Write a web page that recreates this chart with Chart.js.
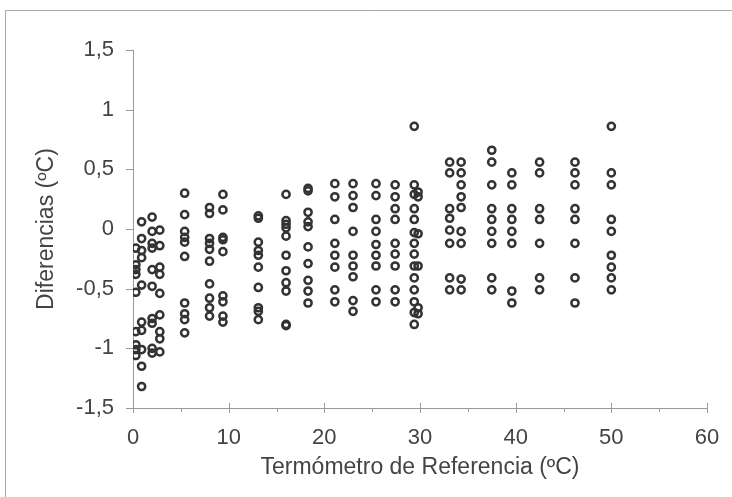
<!DOCTYPE html>
<html lang="es">
<head>
<meta charset="UTF-8">
<title>Diferencias vs termómetro de referencia</title>
<style>
  html, body { margin: 0; padding: 0; background: #fff; }
  #wrap { width: 732px; height: 497px; position: relative; }
</style>
</head>
<body>
<div id="wrap"><canvas id="chart" width="732" height="497"></canvas></div>
<script src="https://cdn.jsdelivr.net/npm/chart.js@4/dist/chart.umd.min.js"></script>
<script>
// readings grouped by reference temperature (x) with the differences (y)
const refTemps = [0.3, 0.9, 2.0, 2.8, 5.4, 8.0, 9.4, 13.1, 16.0, 18.3, 21.1, 23.0, 25.4, 27.4, 29.4, 29.8, 33.1, 34.3, 37.5, 39.6, 42.5, 46.2, 50.0];
const diffs = [
  [-0.16, -0.30, -0.34, -0.38, -0.53, -0.86, -0.97, -1.01, -1.06],
  [0.06, -0.08, -0.18, -0.24, -0.47, -0.78, -0.85, -1.01, -1.15, -1.32],
  [0.10, -0.02, -0.12, -0.16, -0.34, -0.48, -0.75, -0.79, -1.00, -1.04],
  [-0.01, -0.14, -0.32, -0.38, -0.54, -0.72, -0.86, -0.92, -1.03],
  [0.30, 0.12, -0.02, -0.07, -0.11, -0.23, -0.62, -0.71, -0.76, -0.87],
  [0.18, 0.13, -0.08, -0.12, -0.17, -0.27, -0.46, -0.58, -0.66, -0.73],
  [0.29, 0.16, -0.07, -0.09, -0.19, -0.56, -0.61, -0.73, -0.78],
  [0.11, 0.09, -0.11, -0.18, -0.22, -0.32, -0.49, -0.66, -0.69, -0.76],
  [0.29, 0.07, 0.04, 0.01, -0.06, -0.22, -0.35, -0.45, -0.52, -0.80, -0.81],
  [0.34, 0.32, 0.14, 0.06, 0.02, -0.15, -0.29, -0.43, -0.52, -0.62],
  [0.38, 0.27, 0.08, -0.12, -0.22, -0.32, -0.51, -0.61],
  [0.38, 0.28, 0.18, -0.02, -0.22, -0.31, -0.40, -0.60, -0.69],
  [0.38, 0.28, 0.08, -0.02, -0.13, -0.22, -0.31, -0.51, -0.61],
  [0.37, 0.27, 0.17, 0.08, -0.12, -0.21, -0.31, -0.51, -0.61],
  [0.86, 0.37, 0.29, 0.17, 0.08, -0.03, -0.12, -0.21, -0.31, -0.41, -0.51, -0.61, -0.70, -0.80],
  [0.27, 0.31, -0.04, -0.31, -0.71, -0.66],
  [0.56, 0.47, 0.17, 0.09, -0.01, -0.12, -0.41, -0.51],
  [0.56, 0.47, 0.37, 0.27, 0.18, -0.02, -0.12, -0.42, -0.51],
  [0.66, 0.56, 0.37, 0.17, 0.08, -0.02, -0.12, -0.41, -0.51],
  [0.47, 0.37, 0.17, 0.08, -0.02, -0.12, -0.52, -0.62],
  [0.56, 0.47, 0.17, 0.08, -0.12, -0.41, -0.51],
  [0.56, 0.47, 0.37, 0.17, 0.08, -0.12, -0.41, -0.62],
  [0.86, 0.47, 0.37, 0.08, -0.02, -0.22, -0.32, -0.41, -0.51]
];
const xTicks = [0, 10, 20, 30, 40, 50, 60];
const xMinorTicks = [5, 15, 25, 35, 45, 55];
const yTicks = [-1.5, -1, -0.5, 0, 0.5, 1, 1.5];

const points = [];
refTemps.forEach((t, i) => {
  diffs[i].forEach(d => points.push({ x: t, y: d }));
});

const axisColor = '#9a9a9a';
const textColor = '#444';

// frame lines + tick marks drawn through the scales
const decor = {
  id: 'decor',
  beforeDraw(chart) {
    const c = chart.ctx;
    c.save();
    c.strokeStyle = '#a8a8a8';
    c.lineWidth = 1;
    c.beginPath();
    c.moveTo(5.5, 497);
    c.lineTo(5.5, 10.5);
    c.lineTo(732, 10.5);
    c.stroke();
    c.restore();
  },
  afterDraw(chart) {
    const c = chart.ctx;
    const xs = chart.scales.x, ys = chart.scales.y;
    const ax = ys.right, ay = xs.top;
    c.save();
    c.strokeStyle = axisColor;
    c.lineWidth = 1;
    c.beginPath();
    xTicks.forEach(v => {
      const px = Math.round(xs.getPixelForValue(v)) + 0.5;
      c.moveTo(px, ay - 5); c.lineTo(px, ay + 5);
    });
    xMinorTicks.forEach(v => {
      const px = Math.round(xs.getPixelForValue(v)) + 0.5;
      c.moveTo(px, ay); c.lineTo(px, ay + 4);
    });
    yTicks.forEach(v => {
      const py = Math.round(ys.getPixelForValue(v)) + 0.5;
      c.moveTo(ax - 7, py); c.lineTo(ax, py);
    });
    c.stroke();
    c.restore();
  }
};

new Chart(document.getElementById('chart'), {
  type: 'scatter',
  data: {
    datasets: [{
      data: points,
      pointRadius: 3.6,
      pointHoverRadius: 3.6,
      pointBorderWidth: 2.5,
      pointBackgroundColor: 'rgba(0,0,0,0)',
      pointBorderColor: '#333'
    }]
  },
  options: {
    responsive: false,
    animation: false,
    layout: { padding: { left: 0, top: 50, right: 25, bottom: 0 } },
    plugins: { legend: { display: false }, tooltip: { enabled: false } },
    scales: {
      x: {
        type: 'linear',
        min: 0, max: 60,
        afterFit: s => { s.height = 89; s.paddingLeft = 0; s.paddingRight = 0; },
        afterBuildTicks: s => { s.ticks = xTicks.map(v => ({ value: v })); },
        grid: { display: false, drawTicks: false },
        border: { display: true, color: axisColor },
        ticks: {
          padding: 17,
          color: textColor,
          font: { family: 'Liberation Sans', size: 22 },
          callback: v => String(v)
        },
        title: {
          display: true,
          text: 'Termómetro de Referencia (ºC)',
          color: textColor,
          font: { family: 'Liberation Sans', size: 23 },
          padding: { top: 0, bottom: 16 }
        }
      },
      y: {
        type: 'linear',
        min: -1.5, max: 1.5,
        afterFit: s => { s.width = 133; s.paddingTop = 0; s.paddingBottom = 0; },
        afterBuildTicks: s => { s.ticks = yTicks.map(v => ({ value: v })); },
        grid: { display: false, drawTicks: false },
        border: { display: true, color: axisColor },
        ticks: {
          padding: 19,
          color: textColor,
          font: { family: 'Liberation Sans', size: 22 },
          callback: v => String(v).replace('.', ',')
        },
        title: {
          display: true,
          text: 'Diferencias (ºC)',
          color: textColor,
          font: { family: 'Liberation Sans', size: 23 },
          padding: { top: 33, bottom: 0 }
        }
      }
    }
  },
  plugins: [decor]
});
</script>
</body>
</html>
